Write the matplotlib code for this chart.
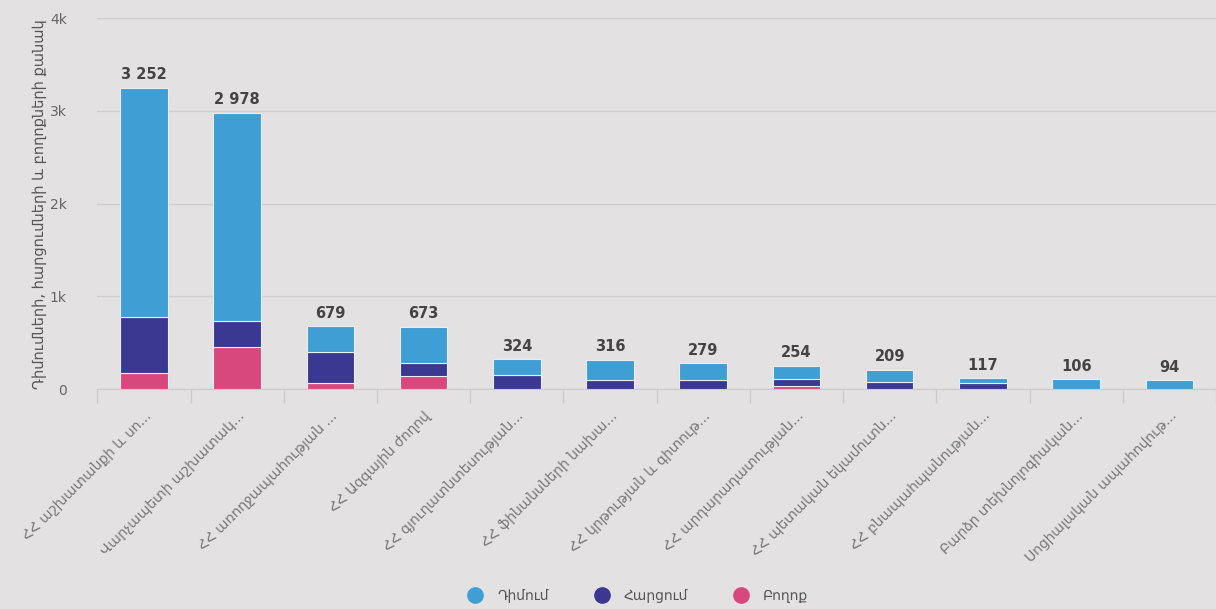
import matplotlib
matplotlib.use("Agg")
import matplotlib.pyplot as plt
import numpy as np
from matplotlib.lines import Line2D

categories = [
    "ՀՀ աշխատանքի և սո...",
    "Վարչապետի աշխատակ...",
    "ՀՀ առողջապահության ...",
    "ՀՀ Ազգային ժողով",
    "ՀՀ գյուղատնտեսության...",
    "ՀՀ ֆինանսների նախա...",
    "ՀՀ կրթության և գիտութ...",
    "ՀՀ արդարադատության...",
    "ՀՀ պետական եկամուտն...",
    "ՀՀ բնապահպանության...",
    "Բարձր տեխնոլոգիական...",
    "Սոցիալական ապահովութ...",
]
totals = [3252, 2978, 679, 673, 324, 316, 279, 254, 209, 117, 106, 94]
complaints = [175, 455, 70, 140, 0, 0, 0, 35, 0, 0, 0, 0]      # Բողոք
inquiries = [600, 275, 330, 140, 150, 100, 95, 70, 74, 62, 0, 0]  # Հարցում
applications = [t - c - q for t, c, q in zip(totals, complaints, inquiries)]  # Դիմում

series_names = ["Դիմում", "Հարցում", "Բողոք"]
colors = ["#3f9fd4", "#3a3890", "#d8487c"]
ylabel = "Դիմումների, հարցումների և բողոքների քանակ"
ytick_vals = [0, 1000, 2000, 3000, 4000]
ytick_labels = ["0", "1k", "2k", "3k", "4k"]

plt.rcParams['font.family'] = ['DejaVu Sans']
bg = "#e3e1e2"
fig = plt.figure(figsize=(12.16, 6.09), dpi=100, facecolor=bg)
ax = fig.add_axes([0.080, 0.361, 0.920, 0.609], facecolor=bg)

x = np.arange(len(categories))
w = 0.51
edge = "#e8eef5"
ax.bar(x, complaints, w, color=colors[2], edgecolor=edge, linewidth=0.8, zorder=3)
ax.bar(x, inquiries, w, bottom=complaints, color=colors[1], edgecolor=edge, linewidth=0.8, zorder=3)
b2 = [c + q for c, q in zip(complaints, inquiries)]
ax.bar(x, applications, w, bottom=b2, color=colors[0], edgecolor=edge, linewidth=0.8, zorder=3)

for xi, t in zip(x, totals):
    ax.text(xi, t + 60, f"{t:,}".replace(",", " "), ha="center", va="bottom",
            fontsize=10.5, fontweight="bold", color="#444444", zorder=4)

ax.set_xlim(-0.5, 11.3)
ax.set_ylim(0, 4000)
ax.set_yticks(ytick_vals)
ax.set_yticklabels(ytick_labels, color="#666666", fontsize=10)
ax.yaxis.grid(True, color="#cfcdce", linewidth=1, zorder=0)
ax.set_axisbelow(True)
ax.tick_params(axis="y", length=0, pad=22)
ax.set_ylabel(ylabel, color="#555555", fontsize=10.5, labelpad=2)

ax.set_xticks(x)
ax.set_xticklabels(categories, rotation=45, ha="right", rotation_mode="anchor",
                   color="#777777", fontsize=10)
ax.tick_params(axis="x", which="major", length=0, pad=14)
ax.set_xticks(np.arange(-0.5, len(categories), 1), minor=True)
ax.tick_params(axis="x", which="minor", length=10, color="#cccacb", width=1)

for s in ["top", "right", "left"]:
    ax.spines[s].set_visible(False)
ax.spines["bottom"].set_color("#cccacb")

handles = [Line2D([0], [0], marker="o", linestyle="", markersize=11,
                  markerfacecolor=c, markeredgecolor=c) for c in colors]
fig.legend(handles, series_names, loc="center", bbox_to_anchor=(0.522, 0.022),
           ncol=3, frameon=False, fontsize=10, labelcolor="#555555",
           columnspacing=2.8, handletextpad=0.6)

fig.savefig("out.png", dpi=100, facecolor=bg)
